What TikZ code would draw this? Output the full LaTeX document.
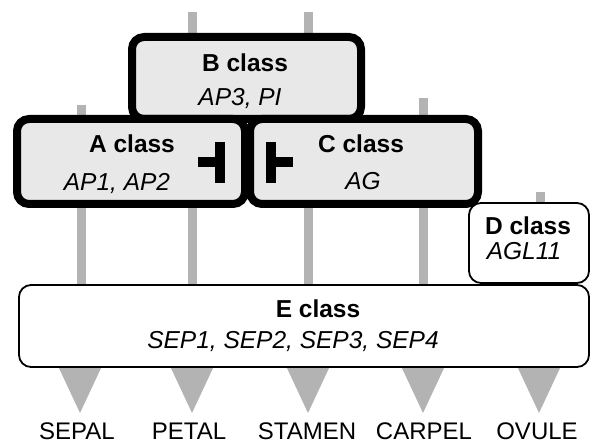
\documentclass[tikz,border=0pt]{standalone}
\usepackage{fontspec}
\setmainfont{Liberation Sans}
\definecolor{bargray}{HTML}{B3B3B3}
\definecolor{boxfill}{HTML}{E8E8E8}
\begin{document}
\begin{tikzpicture}[x=1pt,y=-1pt,
  bar/.style={draw=bargray,line width=9pt},
  thickbox/.style={draw=black,fill=boxfill,line width=8pt,rounded corners=12pt,inner sep=0pt,outer sep=0pt},
  thinbox/.style={draw=black,fill=white,line width=1.8pt,rounded corners=12pt,inner sep=0pt,outer sep=0pt},
  inhib/.style={draw=black,line width=10pt},
  cls/.style={anchor=base,inner sep=0pt,font=\fontsize{24.5}{29}\selectfont\bfseries},
  gene/.style={anchor=base,inner sep=0pt,font=\fontsize{24.5}{29}\selectfont\itshape},
  organ/.style={anchor=base,inner sep=0pt,font=\fontsize{24}{29}\selectfont}]
\useasboundingbox (0,0) rectangle (591,443);
% reference positions of the lower boxes
\path (304,326) node[inner sep=0pt,outer sep=0pt,minimum width=570pt,minimum height=82pt] (Eref) {};
\path (529,243) node[inner sep=0pt,outer sep=0pt,minimum width=120pt,minimum height=80pt] (Dref) {};
% bar tops
\coordinate (t1) at (81,105);
\coordinate (t2) at (192,12);
\coordinate (t3) at (308,12);
\coordinate (t4) at (423,98);
\coordinate (t5) at (540,192);
\draw[bar] (t1) -- (t1 |- Eref.north);
\draw[bar] (t2) -- (t2 |- Eref.north);
\draw[bar] (t3) -- (t3 |- Eref.north);
\draw[bar] (t4) -- (t4 |- Eref.north);
\draw[bar] (t5) -- (t5 |- Dref.north);
% triangles
\foreach \x in {80,192,308,423,539}{
  \fill[bargray] (\x-22,366) -- (\x+22,366) -- (\x,413) -- cycle;
}
% boxes
\node[thickbox,minimum width=229pt,minimum height=82pt] (B) at (246.5,78) {};
\node[thickbox,minimum width=228pt,minimum height=85pt] (A) at (131,161.5) {};
\node[thickbox,minimum width=228pt,minimum height=85pt] (C) at (364,161.5) {};
\node[thinbox,minimum width=120pt,minimum height=80pt] (D) at (529,243) {};
\node[thinbox,minimum width=570pt,minimum height=82pt] (E) at (304,326) {};
% inhibition symbols
\coordinate (ia1) at (198,162);
\coordinate (ia2) at (220,162);
\draw[inhib] (ia1) -- (ia2);
\draw[inhib] (220,142) -- (220,183);
\coordinate (ic1) at (271,162);
\coordinate (ic2) at (293,162);
\draw[inhib] (ic1) -- (ic2);
\draw[inhib] (271,142) -- (271,183);
% texts
\node[cls] (Bt) at (245,72) {B class};
\node[gene] (Bg) at (240,106) {AP3, PI};
\node[cls] (At) at (132,153) {A class};
\node[gene] (Ag) at (117,191) {AP1, AP2};
\node[cls] (Ct) at (361,153) {C class};
\node[gene] (Cg) at (363,190) {AG};
\node[cls] (Dt) at (528,235) {D class};
\node[gene] (Dg) at (524,260) {AGL11};
\node[cls] (Et) at (318,317) {E class};
\node[gene] (Eg) at (293,348) {SEP1, SEP2, SEP3, SEP4};
\node[organ] (o1) at (77,439) {SEPAL};
\node[organ] (o2) at (189,439) {PETAL};
\node[organ] (o3) at (307,439) {STAMEN};
\node[organ] (o4) at (424,439) {CARPEL};
\node[organ] (o5) at (537,439) {OVULE};
\end{tikzpicture}
\end{document}
